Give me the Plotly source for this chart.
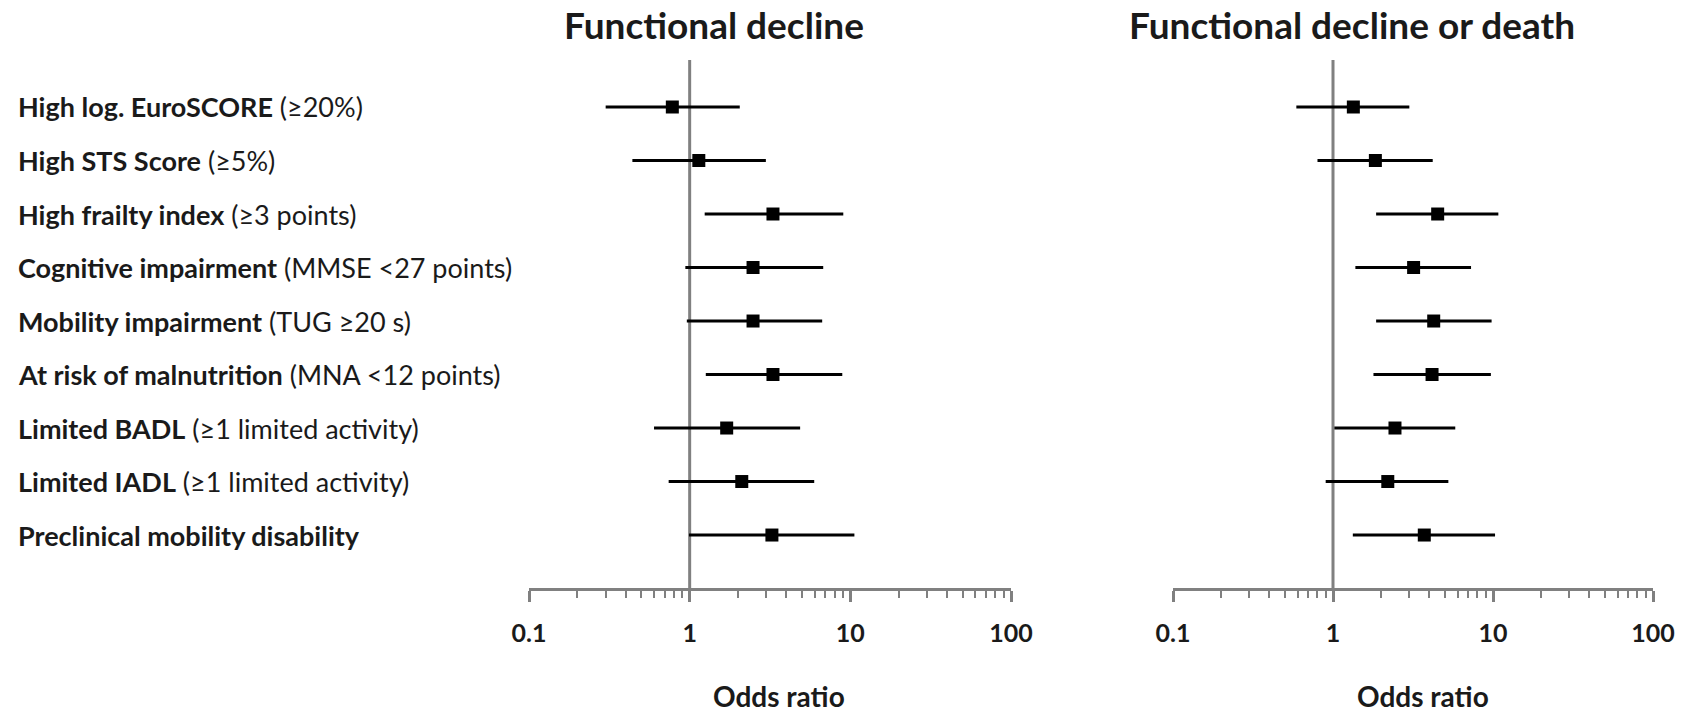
import plotly.graph_objects as go

# ---- data ----
labels_bold = [
    "High log. EuroSCORE",
    "High STS Score",
    "High frailty index",
    "Cognitive impairment",
    "Mobility impairment",
    "At risk of malnutrition",
    "Limited BADL",
    "Limited IADL",
    "Preclinical mobility disability",
]
labels_detail = [
    "(≥20%)",
    "(≥5%)",
    "(≥3 points)",
    "(MMSE &lt;27 points)",
    "(TUG ≥20 s)",
    "(MNA &lt;12 points)",
    "(≥1 limited activity)",
    "(≥1 limited activity)",
    "",
]

# Functional decline
or_fd = [0.78, 1.14, 3.30, 2.48, 2.48, 3.30, 1.70, 2.11, 3.25]
lo_fd = [0.30, 0.44, 1.24, 0.94, 0.96, 1.26, 0.60, 0.74, 0.99]
hi_fd = [2.05, 2.98, 9.04, 6.78, 6.68, 8.91, 4.87, 5.96, 10.6]

# Functional decline or death
or_fdd = [1.34, 1.84, 4.51, 3.19, 4.26, 4.16, 2.44, 2.20, 3.72]
lo_fdd = [0.59, 0.80, 1.86, 1.38, 1.86, 1.79, 1.02, 0.90, 1.33]
hi_fdd = [3.00, 4.20, 10.8, 7.29, 9.80, 9.70, 5.81, 5.26, 10.3]

panel_titles = ["Functional decline", "Functional decline or death"]
x_title = "Odds ratio"
tick_vals = [0.1, 1, 10, 100]
tick_text = ["0.1", "1", "10", "100"]
minor_vals = [m * d for d in (0.1, 1, 10) for m in range(2, 10)]

rows = list(range(1, len(labels_bold) + 1))

W, H = 1690, 716
GRAY = "#808080"
FONT = "Lato"

fig = go.Figure()

panels = [
    (or_fd, lo_fd, hi_fd, "x", "y"),
    (or_fdd, lo_fdd, hi_fdd, "x2", "y2"),
]
y_top, y_bot = 0.1215, 9.99

for orv, lo, hi, xa, ya in panels:
    # reference line at OR = 1
    fig.add_trace(go.Scatter(
        x=[1, 1], y=[y_top, y_bot], mode="lines",
        line=dict(color=GRAY, width=3), xaxis=xa, yaxis=ya,
        showlegend=False, hoverinfo="skip"))
    fig.add_trace(go.Scatter(
        x=orv, y=rows, mode="markers",
        marker=dict(symbol="square", size=13, color="black"),
        error_x=dict(type="data", symmetric=False,
                     array=[h - o for h, o in zip(hi, orv)],
                     arrayminus=[o - l for o, l in zip(orv, lo)],
                     color="black", thickness=3, width=0),
        xaxis=xa, yaxis=ya, showlegend=False))

ydom = [1 - 588 / H, 1 - 60 / H]

def xaxis_cfg(x0, x1):
    return dict(
        type="log", range=[-1, 2], domain=[x0 / W, x1 / W],
        showline=True, linecolor=GRAY, linewidth=3, mirror=False,
        showgrid=False, zeroline=False,
        ticks="outside", ticklen=11, tickwidth=2.5, tickcolor=GRAY,
        tickvals=tick_vals, ticktext=["<b>%s</b>" % t for t in tick_text],
        tickfont=dict(family=FONT, size=25, color="#1a1a1a"),
        ticklabelstandoff=10,
        minor=dict(tickvals=minor_vals, ticks="outside", ticklen=7,
                   tickwidth=2, tickcolor=GRAY, showgrid=False),
        automargin=False, fixedrange=True,
    )

def yaxis_cfg(anchor):
    return dict(range=[y_bot, y_top], domain=ydom, visible=False,
                showgrid=False, zeroline=False, anchor=anchor,
                automargin=False)

ann = []
for i, (b, d) in enumerate(zip(labels_bold, labels_detail)):
    txt = "<b>%s</b>" % b + ((" " + d) if d else "")
    ann.append(dict(x=16 / W, xref="paper", y=rows[i], yref="y",
                    text=txt, showarrow=False, xanchor="left",
                    yanchor="middle",
                    font=dict(family=FONT, size=27, color="#1a1a1a")))

title_x = [714, 1352]
oddsx = [779, 1423]
for t, tx, ox in zip(panel_titles, title_x, oddsx):
    ann.append(dict(x=tx / W, xref="paper", y=1 - 25 / H, yref="paper",
                    text="<b>%s</b>" % t, showarrow=False,
                    xanchor="center", yanchor="middle",
                    font=dict(family=FONT, size=37, color="#1a1a1a")))
    ann.append(dict(x=ox / W, xref="paper", y=1.5 / H, yref="paper",
                    text="<b>%s</b>" % x_title, showarrow=False,
                    xanchor="center", yanchor="bottom",
                    font=dict(family=FONT, size=28, color="#1a1a1a")))

fig.update_layout(
    template="none",
    width=W, height=H,
    margin=dict(l=0, r=0, t=0, b=0),
    paper_bgcolor="white", plot_bgcolor="white",
    xaxis=dict(**xaxis_cfg(529, 1011), anchor="y"),
    yaxis=yaxis_cfg("x"),
    xaxis2=dict(**xaxis_cfg(1173, 1653), anchor="y2"),
    yaxis2=yaxis_cfg("x2"),
    annotations=ann,
    showlegend=False,
)

fig.write_html("out.html")
